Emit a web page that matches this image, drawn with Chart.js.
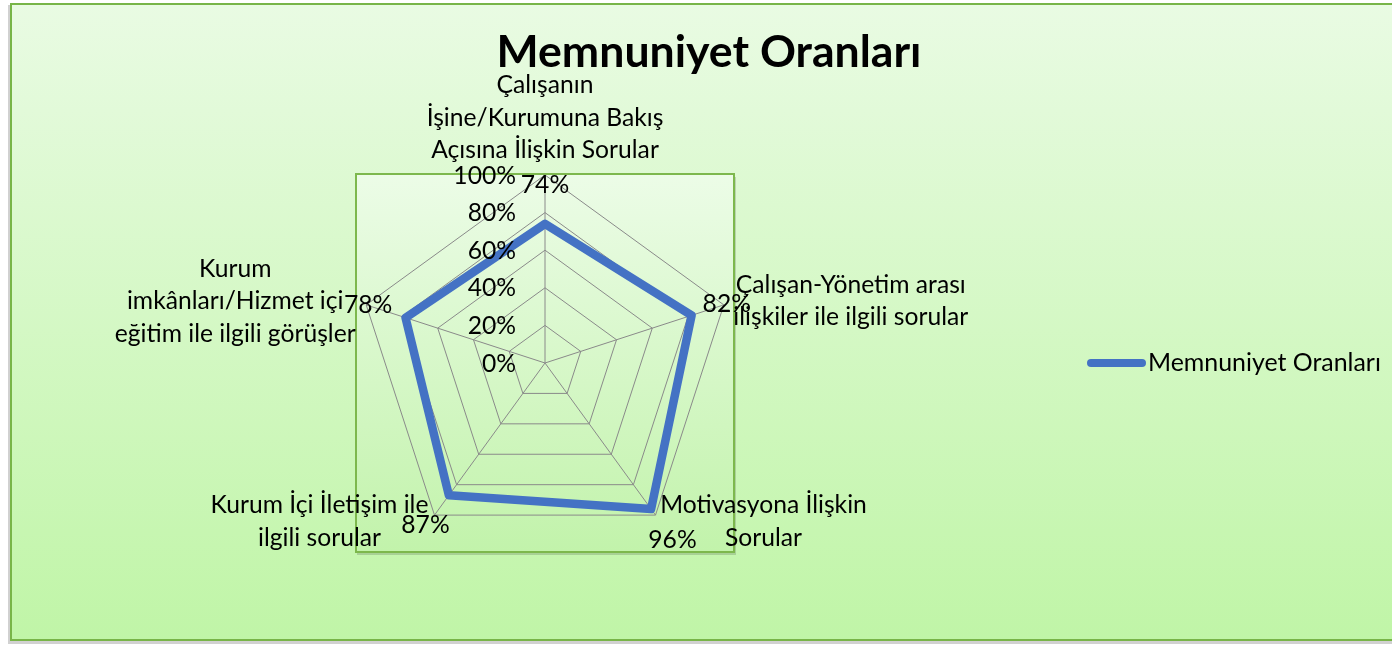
<!DOCTYPE html>
<html>
<head>
<meta charset="utf-8">
<script src="https://cdn.jsdelivr.net/npm/chart.js@4"></script>
<style>
html,body{margin:0;padding:0;background:#ffffff;}
#wrap{position:relative;width:1392px;height:645px;}
canvas{display:block;}
</style>
</head>
<body>
<div id="wrap"><canvas id="c" width="1392" height="645"></canvas></div>
<script>
// ---- data ----
const chartTitle = "Memnuniyet Oranları";
const seriesName = "Memnuniyet Oranları";
const categories = [
  ["Çalışanın", "İşine/Kurumuna Bakış", "Açısına İlişkin Sorular"],
  ["Çalışan-Yönetim arası", "ilişkiler ile ilgili sorular"],
  ["Motivasyona İlişkin", "Sorular"],
  ["Kurum İçi İletişim ile", "ilgili sorular"],
  ["Kurum", "imkânları/Hizmet içi", "eğitim ile ilgili görüşler"]
];
const values = [74, 82, 96, 87, 78];
const tickValues = [0, 20, 40, 60, 80, 100];
const tickLabels = ["0%", "20%", "40%", "60%", "80%", "100%"];

// ---- fonts ----
const FAMILY = "Lato, 'Open Sans', sans-serif";
const mctx = document.createElement('canvas').getContext('2d');
function fitSize(text, target, weight) {
  mctx.font = weight + " 100px " + FAMILY;
  const w = mctx.measureText(text).width;
  return 100 * target / w;
}
const regSize = fitSize("Çalışan-Yönetim arası", 230, "normal");
const titleSize = fitSize(chartTitle, 425, "bold");
const legSize = fitSize(seriesName, 233, "normal");

// placement tweaks for texts (relative to outer vertex of each axis)
const catOffsets = [[0, -82], [127, -12], [108, -2], [-115, -2], [-131, -28]];
const valOffsets = [[0, 18], [3, 7], [17, 33], [-9, 18], [2, 8]];
const LINE_H = 32.5;

const decorPlugin = {
  id: 'decor',
  beforeDraw(chart) {
    const ctx = chart.ctx;
    const W = chart.width;
    ctx.save();
    // outer shadow
    ctx.fillStyle = 'rgba(0,0,0,0.18)';
    ctx.fillRect(8, 5, W, 639);
    // outer frame gradient
    const g = ctx.createLinearGradient(0, 3, 0, 640);
    g.addColorStop(0, '#E9FBE3');
    g.addColorStop(1, '#C0F5A7');
    ctx.fillStyle = g;
    ctx.fillRect(10, 3, W, 637);
    ctx.strokeStyle = '#78B548';
    ctx.lineWidth = 2;
    ctx.strokeRect(11, 4, W + 10, 636);
    // inner plot area
    const a = chart.chartArea;
    ctx.fillStyle = 'rgba(0,0,0,0.15)';
    ctx.fillRect(a.left, a.top + 2, a.right - a.left + 3, a.bottom - a.top + 2);
    const g2 = ctx.createLinearGradient(0, a.top, 0, a.bottom);
    g2.addColorStop(0, '#ECFCE7');
    g2.addColorStop(1, '#C2F3AB');
    ctx.fillStyle = g2;
    ctx.fillRect(a.left - 1, a.top - 1, a.right - a.left + 2, a.bottom - a.top + 2);
    ctx.strokeStyle = '#7DB84D';
    ctx.lineWidth = 2;
    ctx.strokeRect(a.left - 1, a.top - 1, a.right - a.left + 2, a.bottom - a.top + 2);
    ctx.restore();
  },
  afterDraw(chart) {
    const ctx = chart.ctx;
    const r = chart.scales.r;
    ctx.save();
    ctx.fillStyle = '#000000';
    // title
    ctx.font = "bold " + titleSize + "px " + FAMILY;
    ctx.textAlign = 'center';
    ctx.textBaseline = 'alphabetic';
    ctx.fillText(chartTitle, 709, 67);
    // tick labels
    ctx.font = regSize + "px " + FAMILY;
    ctx.textAlign = 'right';
    tickValues.forEach((v, i) => {
      const p = r.getPointPositionForValue(0, v);
      ctx.fillText(tickLabels[i], r.xCenter - 29, p.y + 8.5);
    });
    // category labels
    ctx.textAlign = 'center';
    categories.forEach((lines, i) => {
      const p = r.getPointPositionForValue(i, r.max);
      lines.forEach((ln, k) => {
        ctx.fillText(ln, p.x + catOffsets[i][0], p.y + catOffsets[i][1] + k * LINE_H);
      });
    });
    // value labels
    values.forEach((v, i) => {
      const p = r.getPointPositionForValue(i, r.max);
      ctx.fillText(v + "%", p.x + valOffsets[i][0], p.y + valOffsets[i][1]);
    });
    // legend
    const ly = r.yCenter;
    ctx.strokeStyle = '#4472C4';
    ctx.lineWidth = 8;
    ctx.lineCap = 'round';
    ctx.beginPath();
    ctx.moveTo(1091, ly);
    ctx.lineTo(1142, ly);
    ctx.stroke();
    ctx.font = legSize + "px " + FAMILY;
    ctx.textAlign = 'left';
    ctx.fillText(seriesName, 1148, ly + 8);
    ctx.restore();
  }
};

new Chart(document.getElementById('c'), {
  type: 'radar',
  data: {
    labels: categories,
    datasets: [{
      label: seriesName,
      data: values,
      borderColor: '#4472C4',
      backgroundColor: 'rgba(0,0,0,0)',
      borderWidth: 8.5,
      borderJoinStyle: 'round',
      pointRadius: 0,
      pointHoverRadius: 0,
      fill: false
    }]
  },
  options: {
    responsive: false,
    animation: false,
    events: [],
    layout: { padding: { left: 357, top: 175, right: 659, bottom: 94 } },
    plugins: {
      legend: { display: false },
      title: { display: false },
      tooltip: { enabled: false }
    },
    scales: {
      r: {
        min: 0,
        max: 100,
        ticks: { display: false, stepSize: 20 },
        pointLabels: { display: false },
        grid: { color: '#8A8A8A', lineWidth: 1 },
        angleLines: { color: '#8A8A8A', lineWidth: 1 }
      }
    }
  },
  plugins: [decorPlugin]
});
</script>
</body>
</html>
